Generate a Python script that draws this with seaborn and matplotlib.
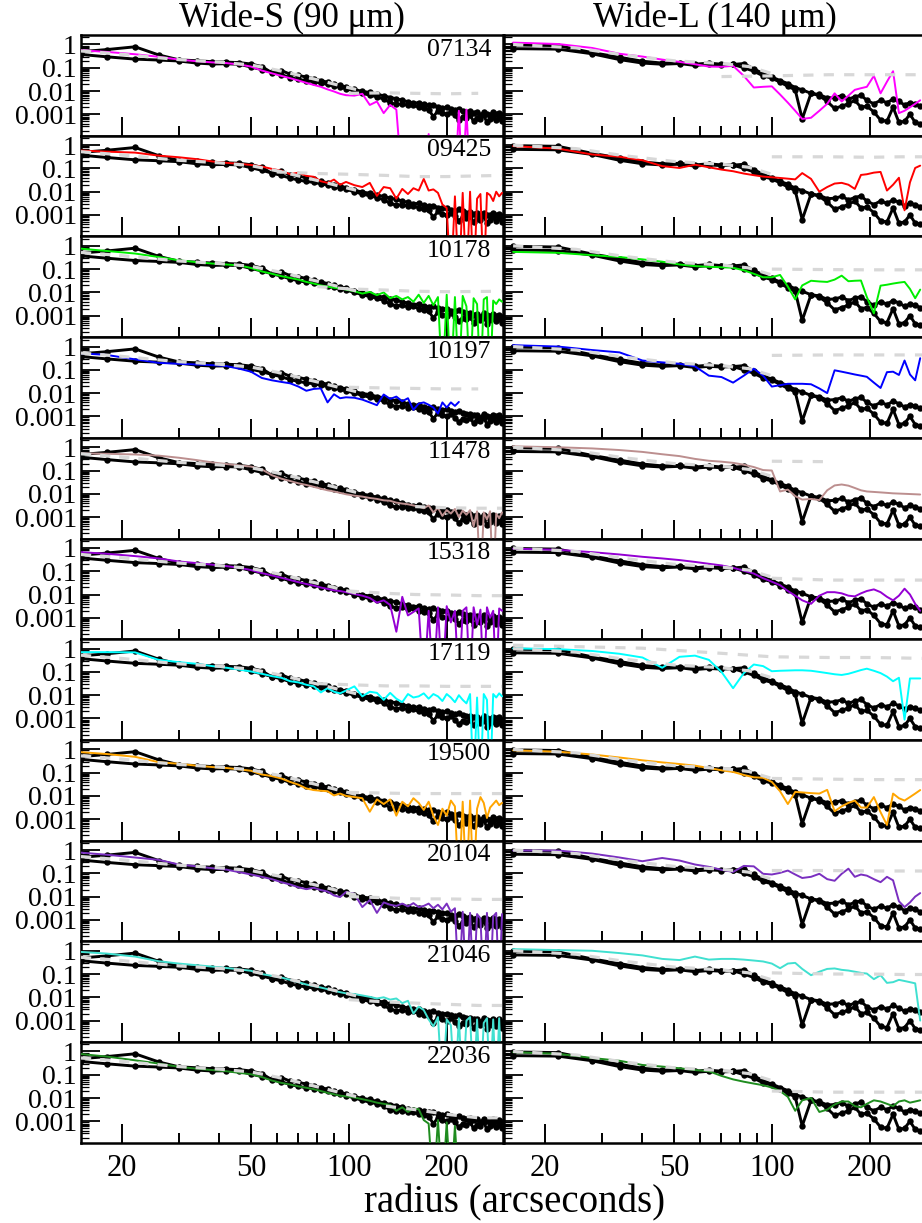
import numpy as np
import pandas as pd
import matplotlib
matplotlib.use("Agg")
import matplotlib.pyplot as plt
from matplotlib.ticker import FixedLocator, NullFormatter, FixedFormatter
import seaborn as sns

sns.set_style("ticks")
plt.rcParams['font.family'] = ['Liberation Serif', 'DejaVu Serif']
plt.rcParams['text.color'] = 'black'
plt.rcParams['axes.edgecolor'] = 'black'
plt.rcParams['xtick.color'] = 'black'
plt.rcParams['ytick.color'] = 'black'
plt.rcParams['axes.labelcolor'] = 'black'

NAN = float('nan')
OFF = -6.0   # value below the plotted floor (non-positive flux)

# ---------------------------------------------------------------- labels
col_titles = ["Wide-S (90 \u03bcm)", "Wide-L (140 \u03bcm)"]
x_label = "radius (arcseconds)"
galaxies = ["07134", "09425", "10178", "10197", "11478", "15318",
            "17119", "19500", "20104", "21046", "22036"]
colors = ["#ff00ff", "#ff0000", "#00ee00", "#0000ff", "#bc8f8f", "#9400d3",
          "#00ffff", "#ffa500", "#7a2fc0", "#40e0d0", "#1f8c1f"]
x_major = [20, 50, 100, 200]
x_minor = [30, 40, 60, 70, 80, 90, 300]
y_major = [1, 0.1, 0.01, 0.001]
y_major_labels = ["1", "0.1", "0.01", "0.001"]

# ---------------------------------------------------------------- radius grids
r90 = [15, 18, 22, 26, 30, 34, 38, 42, 46, 50, 54,
       58, 62, 66, 70, 74, 78, 82, 86, 90, 94, 98,
       104, 110, 116, 122, 128, 134, 140, 146, 152, 158, 164,
       170, 176, 182, 188, 194, 200, 206, 212, 218, 224, 230,
       236, 242, 248, 254, 260, 266, 272, 278, 284, 290, 296]
r140 = [16, 22, 28, 34, 40, 46, 52, 58, 64, 70,
        76, 82, 88, 94, 100, 106, 112, 118, 124, 132,
        140, 148, 156, 164, 172, 180, 188, 196, 206, 216,
        226, 236, 246, 256, 266, 276, 286]

# ---------------------------------------------------------------- PSF (black) log10 profiles
psf90_a = [-0.31, -0.22, -0.10, -0.45, -0.66, -0.70, -0.74, -0.76, -0.78, -0.84, -0.95,
           -1.22, -1.12, -1.28, -1.33, -1.40, -1.47, -1.55, -1.62, -1.70, -1.76, -1.82,
           -1.93, -2.02, -2.06, -2.15, -2.20, -2.28, -2.33, -2.40, -2.46, -2.52, -2.50,
           -2.58, -2.62, -2.60, -2.68, -2.72, -2.70, -2.78, -2.82, -2.76, -2.85, -2.90,
           -2.88, -2.95, -2.92, -3.05, -2.90, -2.98, -3.02, -2.92, -3.00, -2.95, -3.05]
psf90_b = [-0.43, -0.53, -0.63, -0.67, -0.71, -0.80, -0.84, -0.83, -0.85, -0.97, -1.08,
           -1.20, -1.30, -1.42, -1.50, -1.56, -1.60, -1.66, -1.72, -1.78, -1.84, -1.90,
           -2.00, -2.10, -2.18, -2.25, -2.35, -2.50, -2.58, -2.55, -2.62, -2.60, -2.70,
           -2.75, -2.80, -3.10, -2.85, -2.95, -3.00, -2.90, -3.05, -3.25, -3.10, -3.15,
           -3.05, -3.30, -3.15, -3.20, -3.05, -3.35, -3.20, -3.10, -3.25, -3.15, -3.30]
psf140_a = [-0.02, -0.05, -0.35, -0.55, -0.72, -0.80, -0.78, -0.85, -0.80, -0.85,
            -0.86, -0.82, -1.05, -1.25, -1.40, -1.55, -1.68, -1.85, -1.95, -2.10,
            -2.15, -2.30, -2.28, -2.20, -2.35, -2.25, -2.18, -2.40, -2.55, -2.40,
            -2.50, -2.35, -2.45, -2.60, -2.50, -2.55, -2.65]
psf140_b = [-0.18, -0.20, -0.40, -0.65, -0.80, -0.85, -0.82, -0.90, -0.85, -0.88,
            -0.86, -1.00, -1.15, -1.35, -1.45, -1.62, -1.80, -1.95, -3.20, -2.10,
            -2.20, -2.45, -2.75, -2.65, -2.55, -2.40, -2.70, -2.65, -2.90, -3.25,
            -3.30, -2.70, -3.35, -3.30, -3.00, -3.35, -3.40]

# ---------------------------------------------------------------- gray dashed model (shared per band)
gm90_r = [15, 20, 25, 30, 40, 50, 60, 70, 80, 90, 100, 110]
gm90_v = [-0.28, -0.42, -0.55, -0.65, -0.76, -0.88, -1.10, -1.32, -1.52, -1.70, -1.86, -2.00]
gm140_r = [16, 25, 35, 50, 70, 85, 100]
gm140_v = [0.00, -0.15, -0.45, -0.70, -0.82, -0.95, -1.25]

# ---------------------------------------------------------------- gray dashed background levels
gb90_r = [60, 80, 100, 130, 160, 200, 250, 296]
gb90 = {
    "07134": [NAN, NAN, -2.10, -2.08, -2.10, -2.12, -2.10, NAN],
    "09425": [-1.15, -1.22, -1.25, -1.30, -1.35, -1.35, -1.32, -1.30],
    "10178": [NAN, -1.75, -1.85, -1.90, -1.95, -1.97, -1.96, -1.95],
    "10197": [NAN, NAN, -1.75, -1.78, -1.80, -1.82, -1.82, NAN],
    "11478": [NAN, NAN, NAN, NAN, -2.55, -2.60, -2.62, -2.62],
    "15318": [NAN, NAN, -1.85, -1.95, -2.00, -2.02, -2.05, -2.05],
    "17119": [NAN, -1.50, -1.55, -1.60, -1.60, -1.62, -1.62, -1.62],
    "19500": [NAN, NAN, -1.85, -1.88, -1.90, -1.90, -1.90, -1.90],
    "20104": [NAN, NAN, -2.00, -2.05, -2.10, -2.10, -2.12, -2.12],
    "21046": [NAN, NAN, -2.10, -2.20, -2.25, -2.30, -2.35, -2.35],
    "22036": [NAN, NAN, NAN, -2.35, -2.50, -2.70, -2.85, -2.85],
}
gb140_r = [16, 40, 70, 100, 150, 200, 250, 296]
gb140 = {
    "07134": [NAN, NAN, -1.38, -1.35, -1.30, -1.30, -1.30, -1.30],
    "09425": [NAN, NAN, NAN, -0.50, -0.50, -0.52, -0.50, -0.50],
    "10178": [NAN, NAN, NAN, -1.00, -1.02, -1.03, -1.03, -1.03],
    "10197": [NAN, NAN, NAN, -0.38, -0.36, -0.36, -0.36, -0.36],
    "11478": [NAN, NAN, NAN, -0.60, -0.62, NAN, NAN, NAN],
    "15318": [NAN, NAN, NAN, -1.30, -1.38, -1.38, -1.38, -1.38],
    "17119": [0.15, 0.02, -0.20, -0.35, -0.38, -0.38, -0.40, -0.42],
    "19500": [NAN, NAN, NAN, -1.25, -1.28, -1.30, -1.30, -1.30],
    "20104": [NAN, NAN, NAN, -0.88, -0.88, -0.90, -0.90, -0.90],
    "21046": [NAN, NAN, NAN, -0.95, -1.00, -1.00, -1.02, -1.02],
    "22036": [NAN, NAN, NAN, -1.70, -1.75, -1.75, -1.75, -1.75],
}

# ---------------------------------------------------------------- galaxy profiles, 90 um (log10)
g90 = {
    "07134": [-0.25, -0.32, -0.42, -0.53, -0.65, -0.72, -0.77, -0.80, -0.86, -0.95, -1.12,
              -1.24, -1.35, -1.45, -1.55, -1.65, -1.74, -1.82, -1.93, -2.02, -2.12, -2.18,
              -2.20, -2.12, -2.60, -2.45, -2.95, -2.60, -2.80, OFF, OFF, OFF, OFF,
              OFF, -3.85, OFF, OFF, OFF, OFF, OFF, OFF, -2.85, OFF, -2.80,
              OFF, OFF, OFF, OFF, OFF, OFF, OFF, OFF, OFF, OFF, OFF],
    "09425": [-0.23, -0.28, -0.32, -0.45, -0.52, -0.60, -0.70, -0.76, -0.80, -0.85, -0.92,
              -1.02, -1.10, -1.25, -1.18, -1.32, -1.36, -1.55, -1.62, -1.48, -1.70, -1.58,
              -1.72, -1.80, -1.62, -2.18, -1.80, -1.85, -2.30, -1.88, -2.10, -1.85, -1.95,
              -1.45, -1.95, -1.90, -2.05, -2.55, -2.70, OFF, -2.20, OFF, -2.05, OFF,
              -2.00, OFF, -2.30, -2.10, OFF, -2.05, -2.15, -2.40, -2.00, -2.20, -2.05],
    "10178": [-0.12, -0.22, -0.33, -0.48, -0.62, -0.70, -0.76, -0.80, -0.84, -0.95, -1.10,
              -1.20, -1.30, -1.38, -1.45, -1.55, -1.62, -1.70, -1.75, -1.80, -1.82, -1.88,
              -1.95, -2.05, -1.98, -2.12, -2.00, -2.25, -2.15, -2.30, -2.20, -2.40, -2.10,
              -2.45, -2.15, -2.55, -2.20, OFF, -2.10, OFF, -2.20, OFF, -2.15, -2.60,
              OFF, -2.25, -2.50, OFF, -2.30, -2.20, OFF, -2.35, -2.50, -2.30, -2.40],
    "10197": [-0.29, -0.36, -0.55, -0.70, -0.74, -0.77, -0.80, -0.84, -0.95, -1.08, -1.35,
              -1.45, -1.52, -1.58, -1.72, -1.90, -1.82, -1.80, -2.40, -2.05, -2.22, -2.18,
              -2.20, -2.28, -2.40, -2.52, -2.06, -2.25, -2.15, -2.35, -2.22, -2.72, -2.45,
              -2.40, -2.50, -2.62, -2.88, -2.40, -2.62, -2.40, -2.55, -2.38, NAN, NAN,
              NAN, NAN, NAN, NAN, NAN, NAN, NAN, NAN, NAN, NAN, NAN],
    "11478": [-0.26, -0.28, -0.31, -0.36, -0.45, -0.55, -0.65, -0.72, -0.78, -0.83, -0.95,
              -1.20, -1.35, -1.45, -1.55, -1.62, -1.70, -1.78, -1.85, -1.90, -1.96, -2.02,
              -2.08, -2.12, -2.18, -2.22, -2.28, -2.30, -2.38, -2.42, -2.45, -2.50, -2.55,
              -2.62, -2.50, -2.80, -2.60, -2.95, -2.70, -2.85, -2.65, -3.00, -2.72, -2.90,
              -2.70, -3.40, -2.75, OFF, -2.80, -3.10, -2.75, OFF, -2.85, -3.05, -2.80],
    "15318": [-0.18, -0.25, -0.35, -0.45, -0.58, -0.65, -0.72, -0.78, -0.85, -0.95, -1.08,
              -1.18, -1.28, -1.38, -1.47, -1.55, -1.62, -1.70, -1.76, -1.82, -1.85, -1.90,
              -1.98, -2.05, -2.15, -2.35, -2.25, -2.45, -3.60, -2.10, -2.90, -2.75, -2.60,
              OFF, -2.70, OFF, -2.55, OFF, -2.50, -3.20, -2.70, OFF, -2.70, -2.55,
              OFF, -2.55, -3.30, -2.65, OFF, -2.55, -3.00, -2.70, OFF, -2.60, -2.70],
    "17119": [-0.15, -0.15, -0.16, -0.48, -0.58, -0.65, -0.75, -0.82, -0.90, -0.98, -1.08,
              -1.18, -1.25, -1.40, -1.45, -1.55, -1.62, -1.88, -1.70, -1.85, -1.92, -1.80,
              -1.62, -2.05, -1.85, -1.90, -2.20, -1.90, -2.15, -2.30, -1.95, -2.10, -2.05,
              -1.92, -2.15, -1.95, -2.05, -2.25, -1.95, -2.10, -2.30, -2.00, -2.20, -2.35,
              -1.95, OFF, -2.10, OFF, -1.95, -2.20, OFF, -1.95, -2.10, -1.92, -2.05],
    "19500": [-0.12, -0.20, -0.32, -0.55, -0.62, -0.70, -0.76, -0.80, -0.86, -0.92, -1.08,
              -1.15, -1.25, -1.40, -1.52, -1.68, -1.75, -1.78, -1.80, -1.98, -1.90, -2.00,
              -2.05, -2.10, -2.68, -2.15, -2.35, -2.15, -2.85, -2.25, -2.45, -2.10, -2.30,
              -2.60, -2.25, -2.85, -3.25, -2.55, -2.85, -2.20, -2.45, OFF, -2.25, OFF,
              -2.20, OFF, -2.55, -2.05, -2.30, -2.95, -2.50, -2.35, -2.20, -2.40, -2.30],
    "20104": [-0.11, -0.20, -0.32, -0.42, -0.62, -0.70, -0.78, -0.84, -0.95, -1.05, -1.15,
              -1.25, -1.38, -1.48, -1.60, -1.68, -1.62, -1.72, -1.78, -1.95, -2.02, -1.80,
              -1.88, -2.45, -2.15, -2.70, -2.25, -2.35, -2.40, -2.30, -2.42, -2.28, -2.45,
              -2.40, -2.30, -2.50, -2.35, -2.55, -2.30, -2.65, -2.50, OFF, -2.65, OFF,
              -2.70, OFF, -2.75, -2.95, OFF, -2.70, OFF, -2.85, -2.70, OFF, -2.75],
    "21046": [-0.05, -0.12, -0.25, -0.45, -0.55, -0.62, -0.68, -0.74, -0.80, -0.86, -1.00,
              -1.08, -1.15, -1.25, -1.35, -1.45, -1.52, -1.58, -1.65, -1.72, -1.78, -1.83,
              -1.86, -1.92, -1.98, -2.05, -2.00, -2.10, -2.05, -2.25, -2.15, -2.70, -2.40,
              -2.55, -2.95, -3.25, -2.85, OFF, -2.95, -3.20, OFF, -2.90, OFF, -3.00,
              -2.85, OFF, -2.95, OFF, -3.10, -2.90, OFF, -2.95, OFF, -2.90, OFF],
    "22036": [-0.11, -0.22, -0.38, -0.52, -0.66, -0.74, -0.80, -0.85, -0.92, -0.98, -1.10,
              -1.25, -1.35, -1.42, -1.50, -1.56, -1.62, -1.70, -1.78, -1.84, -1.90, -1.93,
              -1.98, -2.05, -2.12, -2.20, -2.25, -2.30, -2.55, -2.40, -2.60, -2.45, -2.48,
              -2.95, -3.10, OFF, -2.95, OFF, -3.05, OFF, -3.20, OFF, NAN, NAN,
              NAN, NAN, NAN, NAN, NAN, NAN, NAN, NAN, NAN, NAN, NAN],
}

# ---------------------------------------------------------------- galaxy profiles, 140 um (log10)
g140 = {
    "07134": [0.08, 0.02, -0.15, -0.40, -0.52, -0.65, -0.75, -0.85, -0.95, -0.96,
              -0.92, -1.35, -1.85, -1.82, -1.80, -2.15, -2.50, -2.85, -3.20, -3.15,
              -2.85, -2.55, -2.10, -2.45, -2.20, -1.95, -1.88, -1.82, -1.35, -2.10,
              -1.60, -1.15, -2.95, -2.85, -2.70, -2.55, -2.40],
    "09425": [-0.04, -0.15, -0.40, -0.50, -0.65, -0.90, -0.98, -0.84, -0.95, -1.05,
              -1.12, -1.22, -1.29, -1.35, -1.38, -1.41, -1.44, -1.47, -1.20, -1.45,
              -2.00, -1.80, -1.65, -1.62, -1.70, -1.88, -1.28, -1.25, -1.18, -1.15,
              -1.95, -1.70, -1.40, -2.80, -1.60, -0.98, -0.88],
    "10178": [-0.26, -0.30, -0.40, -0.48, -0.58, -0.68, -0.80, -0.87, -0.90, -0.92,
              -0.94, -1.05, -1.20, -1.35, -1.35, -1.25, -1.75, -2.30, -1.70, -1.50,
              -1.53, -1.55, -1.45, -1.28, -1.52, -1.50, -1.49, -2.20, -2.90, -1.71,
              -1.67, -1.62, -1.58, -1.55, -1.85, -2.25, -1.88],
    "10197": [0.06, 0.00, -0.15, -0.25, -0.60, -0.68, -0.74, -0.85, -1.25, -1.31,
              -1.55, -1.25, -0.95, -1.25, -1.72, -1.66, -1.60, -1.60, -1.60, -1.62,
              -1.80, -2.00, -1.02, -1.08, -1.14, -1.20, -1.25, -1.30, -1.55, -1.78,
              -1.10, -1.08, -1.22, -0.60, -1.20, -1.45, -0.50],
    "11478": [0.04, 0.00, -0.05, -0.12, -0.20, -0.30, -0.38, -0.50, -0.58, -0.62,
              -0.67, -0.75, -0.85, -0.98, -1.00, -1.90, -1.82, -2.10, -2.25, -2.22,
              -2.27, -1.85, -1.64, -1.60, -1.65, -1.75, -1.85, -1.90, -1.92, -1.94,
              -1.96, -1.98, -1.99, -2.00, -2.01, -2.02, -2.03],
    "15318": [-0.03, -0.08, -0.18, -0.28, -0.38, -0.45, -0.52, -0.60, -0.68, -0.75,
              -0.85, -0.98, -1.10, -1.30, -1.45, -1.60, -1.85, -2.05, -2.25, -2.40,
              -2.05, -1.90, -1.90, -1.95, -2.05, -2.08, -1.95, -1.85, -1.78, -1.90,
              -2.10, -2.25, -2.05, -1.75, -2.00, -2.40, -2.70],
    "17119": [0.01, -0.02, -0.10, -0.22, -0.38, -0.82, -0.35, -0.30, -0.48, -1.00,
              -1.70, -1.05, -0.68, -0.75, -0.97, -0.95, -0.94, -0.93, -0.93, -0.95,
              -1.00, -1.05, -1.10, -1.13, -1.08, -1.00, -0.92, -0.86, -0.95, -1.05,
              -1.20, -1.40, -1.25, -3.05, -1.28, -1.28, -1.28],
    "19500": [-0.04, -0.10, -0.22, -0.35, -0.47, -0.56, -0.63, -0.70, -0.80, -0.90,
              -0.97, -1.10, -1.20, -1.22, -1.40, -1.80, -2.35, -1.83, -1.85, -1.88,
              -1.90, -1.74, -2.66, -2.45, -2.30, -2.20, -2.50, -2.50, -2.05, -2.70,
              -3.25, -1.90, -2.10, -2.20, -2.05, -1.90, -1.75],
    "20104": [-0.02, -0.02, -0.15, -0.32, -0.48, -0.34, -0.45, -0.62, -0.72, -0.85,
              -0.94, -0.68, -0.70, -1.02, -1.05, -0.98, -0.88, -1.05, -1.20, -1.15,
              -1.02, -1.25, -1.32, -1.02, -0.80, -1.15, -1.05, -1.10, -1.25, -1.38,
              -1.15, -1.30, -2.20, -2.45, -2.25, -2.00, -1.85],
    "21046": [0.07, 0.03, 0.00, -0.10, -0.20, -0.35, -0.40, -0.25, -0.38, -0.35,
              -0.35, -0.38, -0.42, -0.46, -0.55, -0.75, -0.55, -0.52, -0.78, -1.05,
              -0.90, -0.78, -0.76, -0.82, -0.85, -0.90, -0.95, -0.98, -1.22, -1.05,
              -1.38, -1.35, -1.25, -1.30, -1.35, -1.40, -3.00],
    "22036": [-0.03, -0.10, -0.28, -0.40, -0.58, -0.65, -0.72, -0.80, -0.85, -1.05,
              -1.20, -1.30, -1.38, -1.45, -1.55, -1.70, -1.95, -2.55, -2.10, -2.00,
              -2.60, -2.50, -2.28, -2.15, -2.15, -2.35, -2.40, -2.25, -2.10, -2.15,
              -2.25, -2.35, -2.15, -2.10, -2.20, -2.15, -2.10],
}

# ---------------------------------------------------------------- drawing
W, H = 922, 1223
fig = plt.figure(figsize=(W / 100, H / 100), dpi=100)

panel_top, panel_h = 35.0, 100.7
col_left = [81.0, 504.0]
col_w = 422.0

GRAY = "#d8d8d8"


def draw(ax, r, logv, **kw):
    df = pd.DataFrame({"r": np.asarray(r, float),
                       "v": np.power(10.0, np.asarray(logv, float))})
    sns.lineplot(data=df, x="r", y="v", ax=ax, estimator=None, sort=False,
                 legend=False, **kw)


bands = [
    dict(r=r90, psf=(psf90_a, psf90_b), gm=(gm90_r, gm90_v), gb_r=gb90_r, gb=gb90, g=g90),
    dict(r=r140, psf=(psf140_a, psf140_b), gm=(gm140_r, gm140_v), gb_r=gb140_r, gb=gb140, g=g140),
]

n = len(galaxies)
for i, name in enumerate(galaxies):
    top = panel_top + panel_h * i
    for c, band in enumerate(bands):
        ax = fig.add_axes([col_left[c] / W, 1 - (top + panel_h) / H, col_w / W, panel_h / H])
        ax.set_xscale("log")
        ax.set_yscale("log")
        # object profile
        draw(ax, band["r"], band["g"][name], color=colors[i], linewidth=1.4, zorder=3)
        # PSF profiles
        for prof in band["psf"]:
            draw(ax, band["r"], prof, color="black", linewidth=2.1, marker="o",
                 markersize=4.6, markeredgewidth=0, zorder=2)
        # gray dashed model and background
        draw(ax, band["gm"][0], band["gm"][1], color=GRAY, linewidth=2.3,
             linestyle=(0, (3.2, 2.8)), zorder=4)
        draw(ax, band["gb_r"], band["gb"][name], color=GRAY, linewidth=2.3,
             linestyle=(0, (3.2, 3.2)), zorder=4)

        ax.set_xlim(15.0, 298.0)
        ax.set_ylim(1.2e-4, 2.55)
        ax.set_xlabel("")
        ax.set_ylabel("")
        for s in ax.spines.values():
            s.set_linewidth(1.8)
            s.set_color("black")
            s.set_visible(True)

        ax.xaxis.set_major_locator(FixedLocator(x_major))
        ax.xaxis.set_minor_locator(FixedLocator(x_minor))
        ax.xaxis.set_minor_formatter(NullFormatter())
        ax.yaxis.set_major_locator(FixedLocator(y_major))
        ymin = [m * 10.0 ** e for e in range(-4, 1) for m in range(2, 10)]
        ax.yaxis.set_minor_locator(FixedLocator(ymin))
        ax.yaxis.set_minor_formatter(NullFormatter())

        ax.tick_params(axis="x", which="major", direction="in", length=14, width=1.4,
                       top=False, bottom=True, pad=8, labelsize=22, colors="black")
        ax.tick_params(axis="x", which="minor", direction="in", length=7, width=1.4,
                       top=False, bottom=True, colors="black")
        ax.tick_params(axis="y", which="major", direction="in", length=14, width=1.3,
                       left=True, right=False, pad=3, labelsize=20, colors="black")
        ax.tick_params(axis="y", which="minor", direction="in", length=6, width=0.9,
                       left=True, right=False, colors="black")

        if i == n - 1:
            ax.xaxis.set_major_formatter(FixedFormatter([str(v) for v in x_major]))
        else:
            ax.xaxis.set_major_formatter(NullFormatter())
        if c == 0:
            ax.yaxis.set_major_formatter(FixedFormatter(y_major_labels))
            ax.text(0.972, 0.965, name, transform=ax.transAxes, ha="right", va="top",
                    fontsize=18.5, color="black")
        else:
            ax.yaxis.set_major_formatter(NullFormatter())
        if i == 0:
            ax.set_title(col_titles[c], fontsize=25, pad=4, color="black")

fig.text(515 / W, 1 - 1203 / H, x_label, ha="center", va="center", fontsize=28,
         color="black")

fig.savefig("out.png", dpi=100)
